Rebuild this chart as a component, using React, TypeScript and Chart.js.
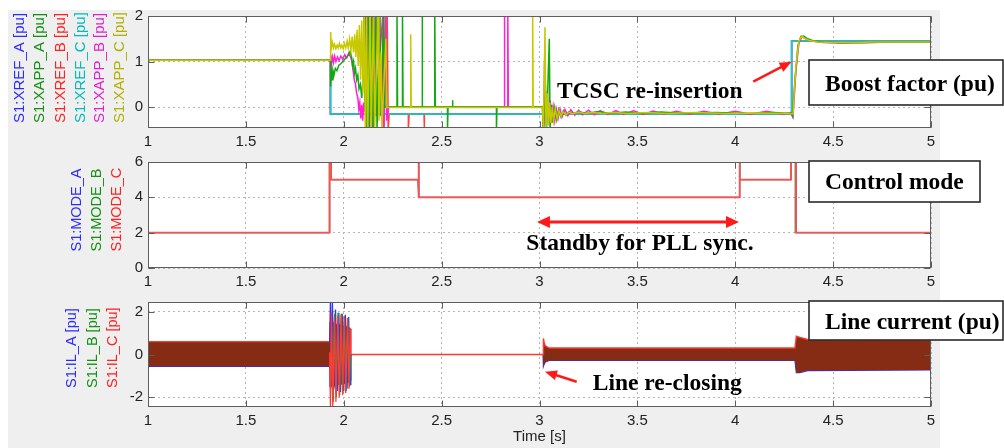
import React, { useEffect, useRef } from "react";
import { Chart, registerables } from "chart.js";
Chart.register(...registerables);

type Pt = [number, number];

// ---------- axes / ticks ----------
const xTicks = [1, 1.5, 2, 2.5, 3, 3.5, 4, 4.5, 5];
const xTickLabels = ["1", "1.5", "2", "2.5", "3", "3.5", "4", "4.5", "5"];
const topYTicks = [0, 1, 2];
const modeYTicks = [0, 2, 4, 6];
const ilYTicks = [-2, 0, 2];

// ---------- y-axis labels ----------
const topLabels = ["S1:XREF_A [pu]", "S1:XAPP_A [pu]", "S1:XREF_B [pu]", "S1:XREF_C [pu]", "S1:XAPP_B [pu]", "S1:XAPP_C [pu]"];
const topLabelColors = ["#2b2bff", "#119011", "#ff2020", "#00bcbc", "#e020d0", "#b0b000"];
const modeLabels = ["S1:MODE_A", "S1:MODE_B", "S1:MODE_C"];
const modeLabelColors = ["#2b2bff", "#119011", "#ff2020"];
const ilLabels = ["S1:IL_A [pu]", "S1:IL_B [pu]", "S1:IL_C [pu]"];
const ilLabelColors = ["#2b2bff", "#119011", "#ff2020"];

// ---------- boost factor (top) ----------
const xrefA: Pt[] = [[1, 1.03], [1.932, 1.03], [1.932, -0.15], [3.02, -0.15], [3.02, -0.5], [3.024, -0.15], [4.288, -0.15], [4.288, 1.45], [5, 1.45]];
const xrefB: Pt[] = [[1, 1.03], [1.932, 1.03], [1.932, -0.15], [2.2, -0.15], [2.2, 2.1], [2.205, -0.5], [2.222, 2.1], [2.227, -0.5], [2.232, -0.15], [2.33, -0.15], [2.33, -0.5], [2.334, -0.15], [2.41, -0.15], [2.41, -0.5], [2.414, -0.15], [4.288, -0.15], [4.288, 1.45], [5, 1.45]];
const xrefC: Pt[] = [[1, 1.03], [1.933, 1.03], [1.933, -0.15], [4.288, -0.15], [4.288, 1.45], [5, 1.45]];
const xappA: Pt[] = [[1, 1.03], [1.932, 1.03], [1.933, 0.45], [1.936, 0.85], [1.94, 0.6], [1.945, 0.8], [1.95, 0.7], [1.957, 0.85], [1.965, 0.8], [1.975, 0.92], [1.985, 0.95], [1.995, 1.0], [2.005, 1.05], [2.015, 1.1], [2.025, 1.15], [2.032, 1.22], [2.04, 1.1], [2.045, 0.9], [2.05, 1.0], [2.055, 0.75], [2.06, 0.85], [2.066, 0.6], [2.072, 0.7], [2.078, 0.4], [2.085, 0.5], [2.092, 0.2], [2.098, 0.6], [2.104, 2.1], [2.108, -0.1], [2.113, 2.1], [2.118, -0.5], [2.127, 2.1], [2.132, -0.5], [2.146, 2.1], [2.15, -0.5], [2.165, 2.1], [2.17, -0.5], [2.185, 2.1], [2.19, -0.2], [2.205, 2.1], [2.21, 0], [2.272, 0], [2.272, 2.1], [2.275, 0], [2.3, 0], [2.3, 2.1], [2.303, 0], [2.4, 0], [2.4, 2.1], [2.403, 0], [2.465, 0], [2.465, 2.1], [2.468, 0], [2.53, 0], [2.53, -0.5], [2.533, 0], [2.555, 0], [2.555, 0.15], [2.558, 0], [2.78, 0], [2.78, -0.5], [2.783, 0], [3.015, 0], [3.02, -0.5], [3.03, 0.5], [3.036, -0.5], [3.05, 1.5], [3.054, -0.45], [3.062, 0.05], [3.07, -0.35], [3.078, -0.02], [3.088, -0.28], [3.098, -0.06], [3.11, -0.22], [3.122, -0.08], [3.135, -0.18], [3.15, -0.1], [3.17, -0.15], [3.2, -0.1], [3.24, -0.14], [3.3, -0.1], [3.36, -0.14], [3.44, -0.11], [3.52, -0.14], [3.62, -0.11], [3.75, -0.14], [3.9, -0.12], [4.05, -0.14], [4.2, -0.12], [4.285, -0.14], [4.292, -0.2], [4.305, 0.6], [4.32, 1.35], [4.335, 1.55], [4.35, 1.56], [4.37, 1.5], [4.4, 1.45], [4.45, 1.43], [4.55, 1.41], [4.65, 1.42], [4.8, 1.43], [5, 1.43]];
const xappB: Pt[] = [[1, 1.03], [1.932, 1.03], [1.933, 1.15], [1.937, 0.95], [1.942, 1.1], [1.947, 0.98], [1.953, 1.12], [1.96, 1.0], [1.968, 1.1], [1.976, 1.02], [1.985, 1.12], [1.995, 1.05], [2.005, 1.15], [2.015, 1.08], [2.025, 1.18], [2.035, 1.1], [2.042, 1.0], [2.048, 0.8], [2.054, 0.6], [2.06, 0.5], [2.066, 0.3], [2.072, 0.2], [2.077, -0.05], [2.082, 0.1], [2.087, -0.25], [2.092, 0.05], [2.097, -0.3], [2.102, 0.1], [2.108, -0.1], [2.114, 0.3], [2.12, 2.1], [2.124, -0.5], [2.142, 2.1], [2.146, -0.5], [2.16, 2.1], [2.165, -0.2], [2.2, 2.1], [2.205, -0.5], [2.215, 2.1], [2.22, -0.3], [2.23, 0], [2.82, 0], [2.82, 2.1], [2.823, 0], [2.838, 0], [2.838, 2.1], [2.841, 0], [3.015, 0], [3.02, -0.5], [3.026, 1.0], [3.032, -0.4], [3.04, 0.35], [3.047, -0.4], [3.055, 0.15], [3.062, -0.35], [3.07, 0.0], [3.078, -0.3], [3.086, -0.05], [3.095, -0.25], [3.105, -0.04], [3.115, -0.22], [3.13, -0.05], [3.145, -0.19], [3.16, -0.06], [3.18, -0.18], [3.2, -0.07], [3.22, -0.17], [3.25, -0.07], [3.28, -0.17], [3.31, -0.08], [3.35, -0.16], [3.39, -0.08], [3.43, -0.16], [3.48, -0.08], [3.53, -0.16], [3.58, -0.09], [3.64, -0.16], [3.7, -0.09], [3.77, -0.16], [3.84, -0.09], [3.92, -0.16], [4.0, -0.09], [4.08, -0.16], [4.16, -0.09], [4.24, -0.16], [4.285, -0.12], [4.295, -0.22], [4.31, 0.8], [4.325, 1.4], [4.34, 1.54], [4.36, 1.5], [4.39, 1.45], [4.45, 1.42], [4.55, 1.4], [4.65, 1.41], [4.8, 1.43], [5, 1.43]];
const xappC: Pt[] = [[1, 1.03], [1.932, 1.03], [1.933, 1.65], [1.937, 1.3], [1.942, 1.42], [1.948, 1.3], [1.953, 1.38], [1.96, 1.28], [1.966, 1.36], [1.972, 1.3], [1.978, 1.4], [1.985, 1.3], [1.99, 1.36], [1.997, 1.28], [2.003, 1.4], [2.01, 1.3], [2.017, 1.45], [2.023, 1.3], [2.03, 1.5], [2.037, 1.25], [2.043, 1.55], [2.05, 1.2], [2.056, 1.6], [2.062, 1.1], [2.068, 1.7], [2.074, 0.9], [2.08, 1.8], [2.086, 0.6], [2.092, 1.9], [2.098, 0.3], [2.104, 2.1], [2.11, -0.5], [2.116, 2.1], [2.122, -0.5], [2.135, 2.1], [2.14, -0.5], [2.152, 2.1], [2.158, -0.5], [2.175, 2.1], [2.18, -0.3], [2.19, 1.2], [2.195, -0.5], [2.215, 1.5], [2.22, -0.01], [2.34, -0.01], [2.342, 1.6], [2.345, -0.01], [2.965, -0.01], [2.965, 2.1], [2.968, -0.01], [3.015, -0.01], [3.02, -0.5], [3.028, 1.75], [3.033, -0.5], [3.04, 0.3], [3.046, -0.4], [3.052, 0.1], [3.058, -0.35], [3.065, 0.0], [3.072, -0.3], [3.08, -0.05], [3.09, -0.25], [3.1, -0.08], [3.11, -0.2], [3.12, -0.1], [3.135, -0.17], [3.15, -0.11], [3.17, -0.15], [3.2, -0.11], [3.23, -0.14], [3.27, -0.12], [3.32, -0.14], [3.38, -0.12], [3.45, -0.14], [3.55, -0.12], [3.65, -0.14], [3.8, -0.12], [3.95, -0.14], [4.1, -0.13], [4.28, -0.14], [4.295, -0.15], [4.31, 0.9], [4.325, 1.45], [4.34, 1.56], [4.36, 1.5], [4.38, 1.46], [4.42, 1.43], [4.5, 1.42], [4.6, 1.41], [4.7, 1.43], [4.85, 1.43], [5, 1.43]];

// ---------- control mode (middle) ----------
const modeA: Pt[] = [[1, 2], [1.928, 2], [1.928, 6], [1.935, 6], [1.935, 5], [2.38, 5], [2.38, 6], [2.384, 6], [2.384, 4], [4.02, 4], [4.02, 6], [4.024, 6], [4.024, 5], [4.285, 5], [4.285, 6], [4.31, 6], [4.31, 2], [5, 2]];
const modeB: Pt[] = [[1, 2], [1.926, 2], [1.926, 6], [1.935, 6], [1.935, 5], [2.38, 5], [2.38, 6], [2.384, 6], [2.384, 4], [4.02, 4], [4.02, 6], [4.024, 6], [4.024, 5], [4.285, 5], [4.285, 6], [4.307, 6], [4.307, 2], [5, 2]];
const modeC: Pt[] = [[1, 2], [1.928, 2], [1.928, 6], [1.935, 6], [1.935, 5], [2.38, 5], [2.38, 6], [2.384, 6], [2.384, 4], [4.02, 4], [4.02, 6], [4.024, 6], [4.024, 5], [4.285, 5], [4.285, 6], [4.31, 6], [4.31, 2], [5, 2]];

// ---------- line current (bottom) ----------
const ilBandT = [1, 1.928, 1.93, 1.945, 1.96, 1.98, 2.0, 2.02, 2.033, 2.036, 3.018, 3.02, 3.024, 3.03, 3.05, 4.305, 4.312, 4.33, 4.37, 5];
const ilBandUpper = [0.6, 0.6, 1.5, 1.5, 1.4, 1.4, 1.35, 1.3, 1.2, 0, 0, 0.75, 0.55, 0.4, 0.3, 0.3, 0.85, 0.8, 0.7, 0.68];
const ilBandLower = [-0.55, -0.55, -1.5, -1.5, -1.4, -1.4, -1.35, -1.3, -1.2, 0, 0, -0.55, -0.45, -0.35, -0.28, -0.28, -0.85, -0.85, -0.75, -0.72];
const ilBurstA: Pt[] = [[1.928, 0.5], [1.932, 2.5], [1.936, -1.2], [1.942, 2.5], [1.95, -1.6], [1.958, 2.1], [1.967, -1.7], [1.975, 1.95], [1.983, -1.75], [1.992, 1.9], [2.0, -1.7], [2.008, 1.85], [2.017, -1.6], [2.025, 1.75], [2.032, -1.4], [2.036, 0]];
const ilBurstB: Pt[] = [[1.928, -0.5], [1.933, -1.6], [1.938, 1.4], [1.946, -2.2], [1.954, 1.9], [1.962, -2.0], [1.971, 1.95], [1.979, -1.9], [1.988, 1.9], [1.996, -1.8], [2.004, 1.8], [2.013, -1.7], [2.021, 1.7], [2.029, -1.5], [2.036, 0]];
const ilBurstC: Pt[] = [[1.928, 0.1], [1.932, -2.5], [1.937, 2.0], [1.944, -2.45], [1.952, 1.7], [1.96, -2.2], [1.969, 1.8], [1.977, -2.0], [1.986, 1.85], [1.994, -1.9], [2.002, 1.8], [2.01, -1.8], [2.019, 1.7], [2.027, -1.6], [2.033, 1.2], [2.036, 0]];

// ---------- helpers ----------
const FONT_SANS = '"Liberation Sans", Arial, sans-serif';
const ANN_FONT = 'bold 23.5px "Liberation Serif", "Times New Roman", serif';
const ANN_RED = "#ff1a1a";
const toXY = (a: Pt[]) => a.map(([x, y]) => ({ x, y }));
const zipXY = (t: number[], v: number[]) => t.map((x, i) => ({ x, y: v[i] }));

const line = (data: Pt[], color: string, order: number, width = 1.5) => ({
  data: toXY(data),
  borderColor: color,
  borderWidth: width,
  pointRadius: 0,
  fill: false,
  tension: 0,
  order,
});

const bgPlugin = {
  id: "plotBg",
  beforeDraw(chart: any) {
    const { ctx, chartArea: a } = chart;
    ctx.save();
    ctx.fillStyle = "#ffffff";
    ctx.fillRect(a.left, a.top, a.right - a.left, a.bottom - a.top);
    ctx.restore();
  },
};

const framePlugin = (yTicks: number[]) => ({
  id: "frame",
  afterDatasetsDraw(chart: any) {
    const { ctx, chartArea: a, scales } = chart;
    const L = Math.round(a.left) + 0.5, R = Math.round(a.right) - 0.5;
    const T = Math.round(a.top) + 0.5, B = Math.round(a.bottom) - 0.5;
    ctx.save();
    ctx.strokeStyle = "#5e5e5e";
    ctx.lineWidth = 1;
    ctx.setLineDash([]);
    ctx.strokeRect(L, T, R - L, B - T);
    ctx.beginPath();
    for (const v of xTicks) {
      const px = Math.round(scales.x.getPixelForValue(v)) + 0.5;
      ctx.moveTo(px, B); ctx.lineTo(px, B - 6);
      ctx.moveTo(px, T); ctx.lineTo(px, T + 6);
    }
    for (const v of yTicks) {
      const py = Math.round(scales.y.getPixelForValue(v)) + 0.5;
      ctx.moveTo(L, py); ctx.lineTo(L + 6, py);
      ctx.moveTo(R, py); ctx.lineTo(R - 6, py);
    }
    ctx.stroke();
    ctx.restore();
  },
});

const yLabelPlugin = (labels: string[], colors: string[], xs: number[], yStart: number, size: number) => ({
  id: "ylabels",
  afterDraw(chart: any) {
    const ctx = chart.ctx;
    labels.forEach((s, i) => {
      ctx.save();
      ctx.translate(xs[i], yStart);
      ctx.rotate(-Math.PI / 2);
      ctx.font = `${size}px ${FONT_SANS}`;
      ctx.fillStyle = colors[i];
      ctx.textAlign = "left";
      ctx.textBaseline = "middle";
      ctx.fillText(s, 0, 0);
      ctx.restore();
    });
  },
});

function drawHead(ctx: any, x0: number, y0: number, x1: number, y1: number, len: number, w: number) {
  const ang = Math.atan2(y1 - y0, x1 - x0);
  const c = Math.cos(ang), s = Math.sin(ang);
  ctx.beginPath();
  ctx.moveTo(x1, y1);
  ctx.lineTo(x1 - len * c + (w / 2) * s, y1 - len * s - (w / 2) * c);
  ctx.lineTo(x1 - len * c - (w / 2) * s, y1 - len * s + (w / 2) * c);
  ctx.closePath();
  ctx.fill();
}

type Ann = {
  boxes: { t0: number; t1: number; v0: number; v1: number }[];
  texts: { t: number; v: number; text: string; align: CanvasTextAlign }[];
  arrows: { t0: number; v0: number; t1: number; v1: number; double?: boolean; width: number; len: number; w: number }[];
};

const annPlugin = (ann: Ann) => ({
  id: "ann",
  afterDraw(chart: any) {
    const { ctx, scales } = chart;
    const X = (t: number) => scales.x.getPixelForValue(t);
    const Y = (v: number) => scales.y.getPixelForValue(v);
    ctx.save();
    for (const b of ann.boxes) {
      const x0 = Math.round(X(b.t0)), x1 = Math.round(X(b.t1));
      const y0 = Math.round(Y(b.v0)), y1 = Math.round(Y(b.v1));
      ctx.fillStyle = "#ffffff";
      ctx.fillRect(x0, y0, x1 - x0, y1 - y0);
      ctx.strokeStyle = "#2a2a2a";
      ctx.lineWidth = 1.6;
      ctx.strokeRect(x0, y0, x1 - x0, y1 - y0);
    }
    for (const a of ann.arrows) {
      const x0 = X(a.t0), y0 = Y(a.v0), x1 = X(a.t1), y1 = Y(a.v1);
      const ang = Math.atan2(y1 - y0, x1 - x0);
      const c = Math.cos(ang), s = Math.sin(ang);
      ctx.strokeStyle = ANN_RED;
      ctx.fillStyle = ANN_RED;
      ctx.lineWidth = a.width;
      ctx.beginPath();
      const sx = a.double ? x0 + a.len * 0.8 * c : x0;
      const sy = a.double ? y0 + a.len * 0.8 * s : y0;
      ctx.moveTo(sx, sy);
      ctx.lineTo(x1 - a.len * 0.8 * c, y1 - a.len * 0.8 * s);
      ctx.stroke();
      drawHead(ctx, x0, y0, x1, y1, a.len, a.w);
      if (a.double) drawHead(ctx, x1, y1, x0, y0, a.len, a.w);
    }
    ctx.font = ANN_FONT;
    ctx.fillStyle = "#000000";
    ctx.textBaseline = "alphabetic";
    for (const t of ann.texts) {
      ctx.textAlign = t.align;
      ctx.fillText(t.text, X(t.t), Y(t.v));
    }
    ctx.restore();
  },
});

function makeConfig(o: {
  datasets: any[];
  yMin: number;
  yMax: number;
  yTicks: number[];
  padTop: number;
  xHeight: number;
  xTitle?: string;
  plugins: any[];
}) {
  const tickFont = { family: FONT_SANS, size: 15 };
  return {
    type: "line",
    data: { datasets: o.datasets },
    options: {
      animation: false,
      responsive: false,
      devicePixelRatio: 1,
      events: [],
      layout: { padding: { top: o.padTop, right: 73, left: 0, bottom: 0 } },
      plugins: { legend: { display: false }, tooltip: { enabled: false }, title: { display: false } },
      scales: {
        x: {
          type: "linear",
          min: 1,
          max: 5,
          afterBuildTicks: (s: any) => { s.ticks = xTicks.map((v) => ({ value: v })); },
          afterFit: (s: any) => { s.height = o.xHeight; },
          grid: { color: "#b4b4b4", lineWidth: 1, drawTicks: false },
          border: { display: false, dash: [2, 3] },
          ticks: {
            padding: 5,
            font: tickFont,
            color: "#222222",
            maxRotation: 0,
            autoSkip: false,
            callback: (v: number) => { const i = xTicks.indexOf(v); return i >= 0 ? xTickLabels[i] : ""; },
          },
          title: o.xTitle
            ? { display: true, text: o.xTitle, font: tickFont, color: "#222222", padding: { top: 0, bottom: 2 } }
            : { display: false },
        },
        y: {
          type: "linear",
          min: o.yMin,
          max: o.yMax,
          afterBuildTicks: (s: any) => { s.ticks = o.yTicks.map((v) => ({ value: v })); },
          afterFit: (s: any) => { s.width = 148; },
          grid: { color: "#b4b4b4", lineWidth: 1, drawTicks: false },
          border: { display: false, dash: [2, 3] },
          ticks: { padding: 5, font: tickFont, color: "#222222", callback: (v: number) => String(v) },
        },
      },
    },
    plugins: [bgPlugin, framePlugin(o.yTicks), ...o.plugins],
  };
}

function topConfig() {
  return makeConfig({
    datasets: [
      line(xrefA, "#1f1fff", 6),
      line(xrefB, "#ff4040", 5),
      line(xrefC, "#00d8d8", 4),
      line(xappB, "#ff20d8", 3),
      line(xappA, "#12a812", 2),
      line(xappC, "#c8c800", 1),
    ],
    yMin: -0.46,
    yMax: 2,
    yTicks: topYTicks,
    padTop: 16,
    xHeight: 20,
    plugins: [
      yLabelPlugin(topLabels, topLabelColors, [19.5, 39.5, 60.5, 80.5, 100, 119.5], 123, 15),
      annPlugin({
        boxes: [{ t0: 4.377, t1: 5.368, v0: 1.034, v1: 0.045 }],
        texts: [
          { t: 3.089, v: 0.192, text: "TCSC re-insertion", align: "left" },
          { t: 4.459, v: 0.359, text: "Boost factor (pu)", align: "left" },
        ],
        arrows: [{ t0: 4.092, v0: 0.557, t1: 4.288, v1: 0.996, width: 2.5, len: 12, w: 10 }],
      }),
    ],
  });
}

function modeConfig() {
  return makeConfig({
    datasets: [
      line(modeA, "#1f1fff", 3, 1),
      line(modeB, "#00a000", 2, 1),
      line(modeC, "#ff5050", 1, 1.8),
    ],
    yMin: 0,
    yMax: 6,
    yTicks: modeYTicks,
    padTop: 7,
    xHeight: 20,
    plugins: [
      yLabelPlugin(modeLabels, modeLabelColors, [77, 97, 117], 103.5, 14.5),
      annPlugin({
        boxes: [{ t0: 4.377, t1: 5.25, v0: 6.053, v1: 3.754 }],
        texts: [
          { t: 4.459, v: 4.497, text: "Control mode", align: "left" },
          { t: 3.513, v: 1.035, text: "Standby for PLL sync.", align: "center" },
        ],
        arrows: [{ t0: 2.987, v0: 2.602, t1: 4.019, v1: 2.602, double: true, width: 3, len: 13, w: 12 }],
      }),
    ],
  });
}

function ilConfig() {
  return makeConfig({
    datasets: [
      {
        data: zipXY(ilBandT, ilBandUpper),
        borderColor: "#ff3a2a",
        borderWidth: 1.4,
        backgroundColor: "#862c14",
        fill: "+1",
        pointRadius: 0,
        tension: 0,
        order: 4,
      },
      {
        data: zipXY(ilBandT, ilBandLower),
        borderColor: "#2b2bff",
        borderWidth: 1.2,
        fill: false,
        pointRadius: 0,
        tension: 0,
        order: 5,
      },
      line(ilBurstA, "#3030ff", 3, 1.3),
      line(ilBurstB, "#10a010", 2, 1.3),
      line(ilBurstC, "#ff3a3a", 1, 1.3),
    ],
    yMin: -2.45,
    yMax: 2.45,
    yTicks: ilYTicks,
    padTop: 7,
    xHeight: 41,
    xTitle: "Time [s]",
    plugins: [
      yLabelPlugin(ilLabels, ilLabelColors, [72, 92.5, 113], 100, 14.5),
      annPlugin({
        boxes: [{ t0: 4.377, t1: 5.368, v0: 2.494, v1: 0.656 }],
        texts: [
          { t: 4.459, v: 1.212, text: "Line current (pu)", align: "left" },
          { t: 3.272, v: -1.663, text: "Line re-closing", align: "left" },
        ],
        arrows: [{ t0: 3.19, v0: -1.269, t1: 3.028, v1: -0.801, width: 2.5, len: 12, w: 10 }],
      }),
    ],
  });
}

export default function App() {
  const c1 = useRef<HTMLCanvasElement>(null);
  const c2 = useRef<HTMLCanvasElement>(null);
  const c3 = useRef<HTMLCanvasElement>(null);

  useEffect(() => {
    const charts = [
      new Chart(c1.current as HTMLCanvasElement, topConfig() as any),
      new Chart(c2.current as HTMLCanvasElement, modeConfig() as any),
      new Chart(c3.current as HTMLCanvasElement, ilConfig() as any),
    ];
    return () => charts.forEach((c) => c.destroy());
  }, []);

  const cs = (top: number, h: number): React.CSSProperties => ({
    position: "absolute",
    left: 0,
    top,
    width: 1004,
    height: h,
    display: "block",
  });

  return (
    <div style={{ position: "fixed", left: 0, top: 0, width: 1004, height: 448, background: "#ffffff", overflow: "hidden" }}>
      <div style={{ position: "absolute", left: 8, top: 10, width: 932, height: 438, background: "#efefef" }} />
      <canvas ref={c1} width={1004} height={148} style={cs(0, 148)} />
      <canvas ref={c2} width={1004} height={140} style={cs(148, 140)} />
      <canvas ref={c3} width={1004} height={160} style={cs(288, 160)} />
    </div>
  );
}
